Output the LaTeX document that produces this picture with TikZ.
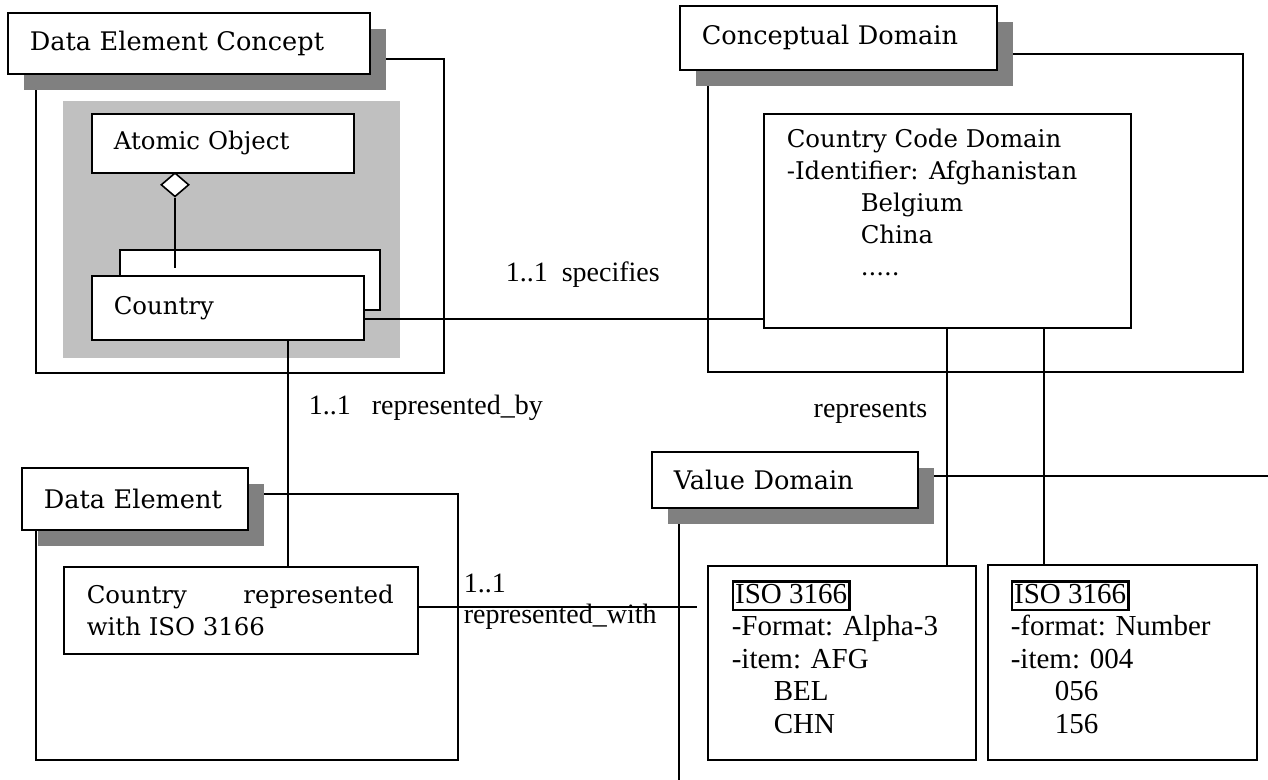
\documentclass[tikz,border=0pt]{standalone}
\usepackage{fontspec}
\setmainfont{DejaVu Serif}
\newfontfamily\labelfont{Liberation Serif}
\usetikzlibrary{shapes.geometric,shadows,calc}
\definecolor{shadowgray}{RGB}{128,128,128}
\definecolor{panelgray}{RGB}{192,192,192}
\newcommand{\isotag}{{\setlength{\fboxrule}{1.2pt}\setlength{\fboxsep}{.5pt}\fbox{\rule[-2.5pt]{0pt}{11pt}ISO 3166}}}

\begin{document}
\begin{tikzpicture}[x = .5pt, y = -.5pt, line width = .8pt]
	\tikzstyle{every node} = [font = \fontsize{12.2}{16}\selectfont]
	\tikzstyle{frame} = [draw, anchor = north west, inner sep = 0pt]
	\tikzstyle{box} = [draw, fill = white, anchor = north west, inner xsep = 11pt, inner ysep = 0pt, align = left]
	\tikzstyle{title} = [box, font = \fontsize{12.8}{16}\selectfont, drop shadow = {shadow xshift = 8pt, shadow yshift = -8pt, fill = shadowgray, opacity = 1}]
	\tikzstyle{txt} = [anchor = base west, inner sep = 0pt]
	\tikzstyle{lbl} = [txt, font = \labelfont\fontsize{14}{16}\selectfont]
	\tikzstyle{isotxt} = [txt, font = \labelfont\fontsize{14.5}{16.25}\selectfont]

	\useasboundingbox (0,0) rectangle (1268,780);

	% outer frames
	\node [frame, minimum width = 204pt, minimum height = 157pt] (decframe) at (35,58) {};
	\node [frame, minimum width = 267.5pt, minimum height = 159pt] (cdframe) at (707,53) {};
	\node [frame, minimum width = 211pt, minimum height = 133pt] (deframe) at (35,493) {};
	\draw (679,780) |- (1268,476); %value domain frame, open to the page edge

	% data element concept
	\fill [panelgray] (63,101) rectangle (400,358);
	\node [title, text width = 159pt, minimum height = 30.5pt] (dectitle) at (7,12) {Data Element Concept};
	\node [box, text width = 109pt, minimum height = 29.5pt] (atomic) at (91,113) {Atomic Object};
	\node [draw, fill = white, shape = diamond, inner sep = 0pt, minimum width = 14pt, minimum height = 12pt, anchor = north] (agg) at (175,172) {};
	\node [box, inner xsep = 0pt, minimum width = 130pt, minimum height = 30pt] (back) at (119,249) {};
	\node [box, text width = 114pt, minimum height = 32pt] (country) at (91,275) {Country};

	% conceptual domain
	\node [title, text width = 136.5pt, minimum height = 32pt] (cdtitle) at (679,5) {Conceptual Domain};
	\node [box, inner xsep = 0pt, minimum width = 183.5pt, minimum height = 107pt] (ccd) at (763,113) {};
	\node [txt] (ccdtext) at (786,148) {\begin{tabular}[t]{@{}l@{}}Country Code Domain\\-Identifier: Afghanistan\\\hspace*{37pt}Belgium\\\hspace*{37pt}China\\\hspace*{37pt}.....\end{tabular}};

	% data element
	\node [title, text width = 91pt, minimum height = 31pt] (detitle) at (21,467) {Data Element};
	\node [box, inner xsep = 0pt, minimum width = 177pt, minimum height = 43.5pt] (decountry) at (63,566) {};
	\node [txt] (dectext) at (86,603) {\begin{tabular}[t]{@{}l@{}}\makebox[153.5pt][l]{Country\hfill represented}\\with ISO 3166\end{tabular}};

	% value domain
	\node [title, text width = 111pt, minimum height = 28pt] (vdtitle) at (651,451) {Value Domain};
	\node [box, inner xsep = 0pt, minimum width = 134pt, minimum height = 97pt] (isoa) at (707,565) {};
	\node [isotxt] (isoatext) at (731,603) {\begin{tabular}[t]{@{}l@{}}\isotag\\-Format: Alpha-3\\-item: AFG\\\hspace*{21pt}BEL\\\hspace*{21pt}CHN\end{tabular}};
	\node [box, inner xsep = 0pt, minimum width = 134.5pt, minimum height = 97.5pt] (isob) at (987,564) {};
	\node [isotxt] (isobtext) at (1010,603) {\begin{tabular}[t]{@{}l@{}}\isotag\\-format: Number\\-item: 004\\\hspace*{22pt}056\\\hspace*{22pt}156\end{tabular}};

	% connectors
	\draw (agg.south) -- ($(agg.south |- back.north)+(0,-9.5pt)$); %aggregation
	\draw ([yshift = -5.5pt]country.east) -- ([yshift = -5.5pt]country.east -| ccd.west); %specifies
	\draw ([xshift = 30pt]country.south) -- ([xshift = 30pt]country.south |- decountry.north); %represented_by
	\draw ([yshift = 1.75pt]decountry.east) -- ($(decountry.east -| isoa.west)+(-5pt,1.75pt)$); %represented_with
	\draw ([xshift = -.25pt]ccd.south) -- ([xshift = -.25pt]ccd.south |- isoa.north); %represents
	\draw ([xshift = 48.25pt]ccd.south) -- ([xshift = 48.25pt]ccd.south |- isob.north);

	% labels
	\node [lbl] (mspec) at (505,282) {1..1};
	\node [lbl] (rspec) at (561,282) {specifies};
	\node [lbl] (mby) at (308,415) {1..1};
	\node [lbl] (rby) at (371,415) {represented\_by};
	\node [lbl] (mwith) at (463,592) {1..1};
	\node [lbl] (rwith) at (463,623) {represented\_with};
	\node [lbl, anchor = base east] (rrep) at (928,417) {represents};
\end{tikzpicture}
\end{document}
